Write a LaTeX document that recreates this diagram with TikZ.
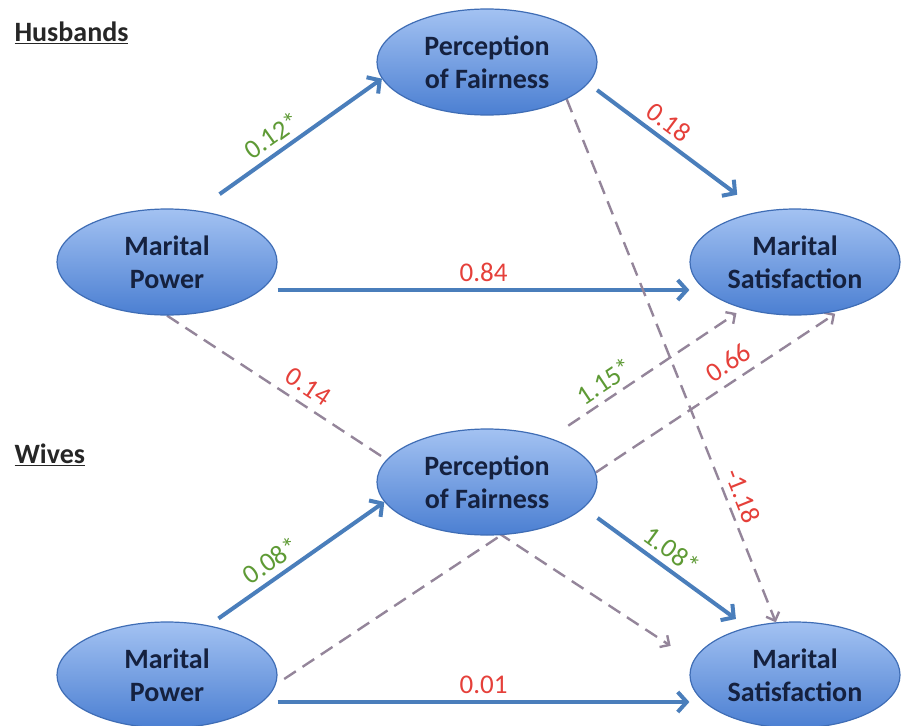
\documentclass[tikz,border=0pt]{standalone}
\usepackage{fontspec}
\setmainfont{Carlito}
\usetikzlibrary{shapes.geometric,arrows.meta,backgrounds}
\definecolor{nodetop}{HTML}{A3C2F2}
\definecolor{nodebottom}{HTML}{4B7FD2}
\definecolor{nodeline}{HTML}{3F6DB5}
\definecolor{nodetext}{HTML}{15213F}
\definecolor{pathblue}{HTML}{4A7EBB}
\definecolor{pathgray}{HTML}{94859A}
\definecolor{sigcol}{HTML}{5E9A35}
\definecolor{nscol}{HTML}{E5403A}
\begin{document}
\begin{tikzpicture}[x=1pt,y=-1pt,
            construct/.style={ellipse, draw=nodeline, line width=1.2pt, top color=nodetop, bottom color=nodebottom,
                minimum width=220pt, minimum height=106pt, inner sep=1pt, align=center, text=nodetext,
                font=\fontsize{28}{33}\selectfont\bfseries},
            direct/.style={draw=pathblue, line width=4pt, -{Straight Barb[length=9pt,width=20pt]}},
            cross/.style={draw=pathgray, line width=2.4pt, dash pattern=on 14pt off 8pt, -{Straight Barb[length=7pt,width=14pt]}},
            sig/.style={text=sigcol, font=\fontsize{27}{27}\selectfont, sloped, above=5pt, inner sep=1pt},
            ns/.style={text=nscol, font=\fontsize{27}{27}\selectfont, sloped, above=5pt, inner sep=1pt},
            group/.style={anchor=west, text=black!85, font=\fontsize{28}{28}\selectfont\bfseries}]
            \useasboundingbox (0,0) rectangle (901,725);
            \node[group] (husb) at (11,33) {\underline{Husbands}};
            \node[group] (wive) at (11,455) {\underline{Wives}};
            \node[construct] (hpf) at (487,62) {Perception\\of Fairness};
            \node[construct] (hmp) at (167,262) {Marital\\Power};
            \node[construct, minimum width=210pt] (hms) at (795,262) {Marital\\Satisfaction};
            \node[construct] (wpf) at (487,482) {Perception\\of Fairness};
            \node[construct] (wmp) at (167,675) {Marital\\Power};
            \node[construct, minimum width=210pt] (wms) at (795,675) {Marital\\Satisfaction};
            \begin{scope}[on background layer]
                \draw[direct, shorten <=28pt] (hmp.60) -- node[sig, pos=0.46] {0.12*} (hpf.189);
                \draw[direct, shorten <=11pt, shorten >=28pt] (hpf.-12) -- node[ns, pos=0.41] {0.18} (hms.125);
                \draw[direct] ([yshift=-28pt]hmp.east) -- node[ns] {0.84} ([yshift=-28pt]hms.west);
                \draw[cross, shorten >=27pt] (hmp.south) -- node[ns, pos=0.25, above=2pt] {0.14} (wms.172);
                \draw[cross] (hpf.-25) -- node[ns, pos=0.77] {-1.18} (wms.110);
                \draw[cross, shorten <=10pt, shorten >=6pt] (wmp.-5) -- node[ns, pos=0.82, above=2pt] {0.66} (hms.-47);
                \draw[cross, shorten <=22pt, shorten >=8pt] (wpf.35) -- node[sig, pos=0.33] {1.15*} (hms.222);
                \draw[direct, shorten <=12pt] (wmp.50) -- node[sig, pos=0.41] {0.08*} (wpf.191);
                \draw[direct, shorten <=17pt, shorten >=14pt] (wpf.-15) -- node[sig, pos=0.475] {1.08*} (wms.135);
                \draw[direct] ([yshift=-27pt]wmp.east) -- node[ns] {0.01} ([yshift=-27pt]wms.west);
            \end{scope}
        \end{tikzpicture}
\end{document}
